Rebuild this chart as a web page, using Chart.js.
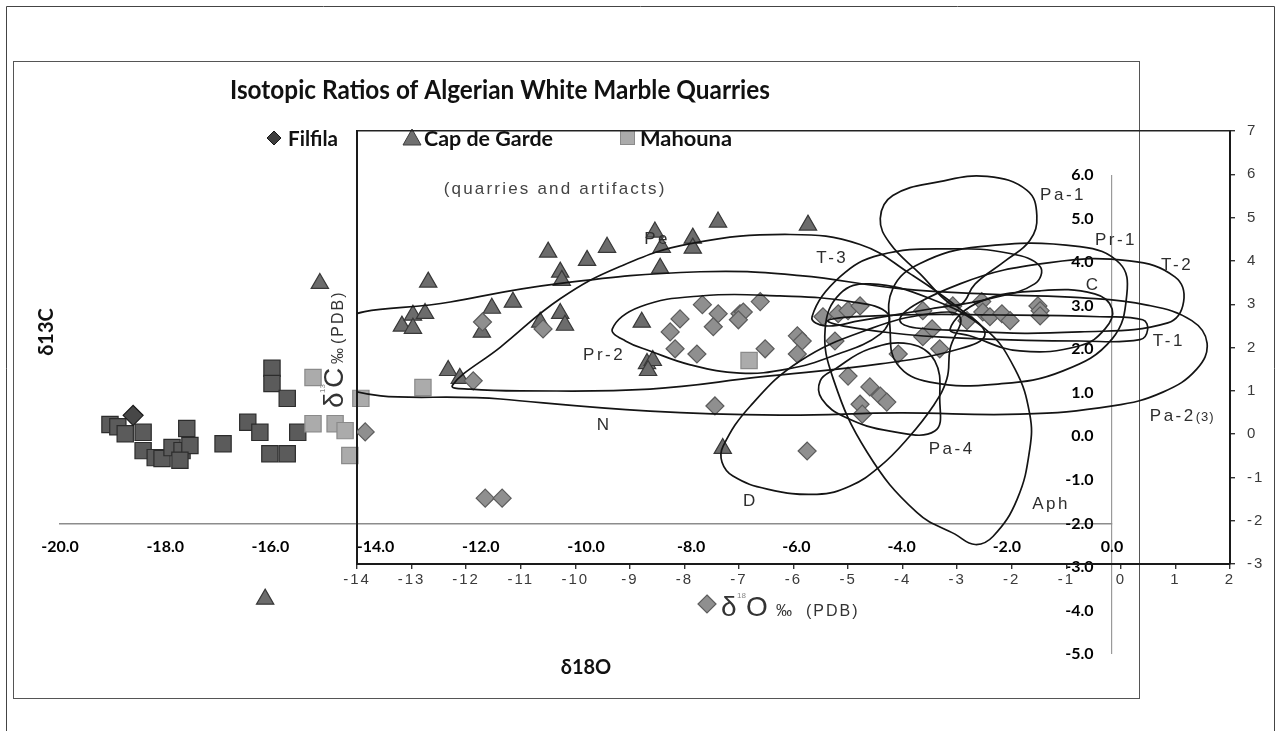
<!DOCTYPE html>
<html>
<head>
<meta charset="utf-8">
<title>Isotopic Ratios of Algerian White Marble Quarries</title>
<script src="https://cdn.jsdelivr.net/npm/chart.js@4.4.1/dist/chart.umd.min.js"></script>
<style>
  html, body { margin: 0; padding: 0; background: #ffffff; }
  #wrap { position: relative; width: 1281px; height: 731px; overflow: hidden; background: #ffffff; }
  #wrap canvas { position: absolute; left: 0; top: 0; }
</style>
</head>
<body>
<div id="wrap">
  <canvas id="quarries" width="1281" height="731"></canvas>
  <canvas id="fields" width="1281" height="731"></canvas>
</div>
<script>
// ---------- Quarry samples: δ18O (x) and δ13C (y), ‰ PDB ----------
const filfilaO = [-18.61];
const filfilaC = [0.48];

const capDeGardeO = [-15.06, -13.00, -13.50, -13.29, -13.29, -13.06, -11.98, -11.79, -11.39, -10.72,
  -9.98, -9.60, -10.49, -10.46, -10.87, -10.49, -10.40, -12.62, -12.40, -8.94,
  -8.84, -8.73, -8.82, -8.69, -8.56, -7.97, -7.97, -7.49, -8.59, -5.78, -7.40, -16.10];
const capDeGardeC = [3.51, 3.54, 2.53, 2.78, 2.48, 2.82, 2.39, 2.94, 3.08, 4.23,
  4.04, 4.34, 3.77, 3.58, 2.62, 2.82, 2.55, 1.51, 1.33, 2.62,
  1.67, 1.74, 1.51, 4.69, 4.34, 4.55, 4.32, 4.92, 3.86, 4.85, -0.28, -3.74];

const mahounaO = [-15.97, -15.97, -15.68, -19.05, -18.90, -18.76, -18.42, -18.42, -18.19, -18.06,
  -17.87, -17.68, -17.53, -17.59, -17.72, -16.90, -16.43, -16.20, -16.01, -15.68,
  -15.48, -15.19, -15.19, -14.77, -14.58, -14.49, -14.28, -13.10, -6.90];
const mahounaC = [1.56, 1.21, 0.87, 0.27, 0.22, 0.06, 0.09, -0.33, -0.49, -0.51,
  -0.26, -0.33, -0.21, 0.18, -0.55, -0.17, 0.32, 0.09, -0.40, -0.40,
  0.09, 1.35, 0.29, 0.29, 0.13, -0.44, 0.87, 1.12, 1.74];

// ---------- Artifacts (quarries and artifacts plot) ----------
const artifactO = [-13.85, -11.70, -10.59, -11.87, -11.65, -11.34, -7.67, -8.08, -8.26, -7.38,
  -7.47, -6.98, -6.92, -7.01, -6.61, -8.17, -7.77, -6.52, -5.93, -5.84,
  -5.93, -7.44, -5.75, -5.46, -5.18, -5.00, -4.78, -5.24, -5.00, -4.60,
  -4.41, -4.29, -4.78, -4.74, -3.63, -3.46, -3.63, -3.32, -4.08, -3.08,
  -2.82, -2.55, -2.53, -2.40, -2.18, -2.03, -1.52, -1.48, -1.48];
const artifactC = [0.05, 2.59, 2.43, 1.23, -1.48, -1.48, 2.99, 2.66, 2.36, 2.78,
  2.48, 2.78, 2.82, 2.64, 3.06, 1.97, 1.85, 1.97, 2.27, 2.15,
  1.85, 0.65, -0.39, 2.71, 2.78, 2.85, 2.96, 2.15, 1.34, 1.09,
  0.88, 0.74, 0.69, 0.46, 2.85, 2.43, 2.25, 1.97, 1.85, 2.96,
  2.62, 3.06, 2.82, 2.71, 2.78, 2.62, 2.96, 2.85, 2.73];

// ---------- Reference marble fields, outlines as [δ18O, δ13C] ----------
const fieldN   = [[-14.49,2.50],[-12.29,3.05],[-10.27,3.48],[-7.71,3.75],[-5.88,3.66],[-4.05,3.36],[-2.22,3.22],[-0.75,3.15],[0.48,2.98],[1.30,2.62],[1.58,2.10],[1.39,1.50],[0.77,0.97],[-0.15,0.65],[-1.85,0.46],[-4.05,0.49],[-6.25,0.44],[-8.63,0.53],[-11.37,0.81],[-14.49,1.18]];
const fieldPe  = [[-12.25,1.13],[-11.37,2.01],[-10.27,3.13],[-9.18,3.87],[-7.89,4.40],[-6.06,4.61],[-4.78,4.38],[-3.86,3.70],[-2.95,2.89],[-2.49,2.31],[-2.95,1.97],[-4.41,1.62],[-6.61,1.32],[-8.63,1.04],[-11.01,1.00],[-11.92,1.04]];
const fieldPr2 = [[-9.32,2.43],[-8.81,2.94],[-7.71,3.19],[-6.25,3.19],[-4.96,3.06],[-4.27,2.78],[-4.41,2.31],[-5.27,1.81],[-6.12,1.50],[-6.98,1.41],[-7.89,1.60],[-8.63,1.92],[-9.08,2.15]];
const fieldT3  = [[-5.66,2.71],[-5.15,3.63],[-4.41,4.14],[-3.13,4.28],[-2.03,4.17],[-1.48,3.87],[-1.58,3.47],[-2.40,3.13],[-3.50,2.89],[-4.78,2.62],[-5.42,2.50]];
const fieldT1  = [[-5.37,2.62],[-4.05,2.75],[-2.22,2.75],[-0.38,2.71],[0.40,2.64],[0.49,2.41],[0.35,2.18],[-0.75,2.15],[-2.58,2.20],[-4.23,2.34]];
const fieldT2  = [[-4.05,2.62],[-2.95,3.47],[-1.30,3.96],[0.16,4.00],[0.99,3.63],[1.15,3.06],[0.86,2.57],[-0.75,2.36],[-2.77,2.38]];
const fieldPr1 = [[-4.23,2.43],[-4.18,3.36],[-3.68,3.94],[-2.58,4.33],[-0.75,4.33],[-0.02,3.94],[0.11,3.24],[-0.16,2.20],[-1.06,1.46],[-2.22,1.16],[-3.50,1.20],[-4.10,1.62]];
const fieldC   = [[-3.13,2.43],[-2.58,3.06],[-1.48,3.31],[-0.48,3.24],[-0.16,2.89],[-0.29,2.43],[-0.75,2.04],[-1.85,1.92],[-2.77,2.27]];
const fieldPa1 = [[-3.13,3.01],[-3.68,3.70],[-4.23,4.40],[-4.41,4.98],[-4.18,5.51],[-3.32,5.83],[-2.45,5.95],[-1.72,5.63],[-1.54,5.05],[-1.67,4.47],[-2.12,4.00],[-2.67,3.47],[-2.91,3.01]];
const fieldD   = [[-2.95,2.71],[-3.13,1.97],[-3.19,1.27],[-3.44,0.65],[-3.92,-0.12],[-4.41,-0.74],[-4.96,-1.20],[-5.57,-1.39],[-6.48,-1.27],[-7.11,-0.97],[-7.31,-0.65],[-7.29,-0.28],[-6.79,0.65],[-5.88,1.69],[-4.60,2.43],[-3.50,2.78]];
const fieldPa4 = [[-5.24,1.50],[-4.60,1.97],[-3.86,2.08],[-3.41,1.69],[-3.32,0.81],[-3.41,0.07],[-4.23,0.07],[-5.05,0.39],[-5.48,0.81],[-5.51,1.23]];
const fieldAph = [[-4.60,3.47],[-3.50,3.13],[-2.49,2.43],[-1.94,1.50],[-1.67,0.46],[-1.67,-0.35],[-1.90,-1.50],[-2.34,-2.36],[-2.67,-2.55],[-3.04,-2.31],[-3.74,-1.81],[-4.65,-0.42],[-5.27,1.27],[-5.42,2.43],[-5.15,3.24]];

// ---------- Tick values ----------
const outerOTicks = [-20, -18, -16, -14, -12, -10, -8, -6, -4, -2, 0];
const outerCTicks = [-5, -4, -3, -2, -1, 0, 1, 2, 3, 4, 5, 6];
const innerOTicks = [-14, -13, -12, -11, -10, -9, -8, -7, -6, -5, -4, -3, -2, -1, 0, 1, 2];
const innerCTicks = [-3, -2, -1, 0, 1, 2, 3, 4, 5, 6, 7];

// ---------- helpers ----------
const toPoints = (xs, ys) => xs.map((x, i) => ({ x: x, y: ys[i] }));
const pairsToPoints = (arr) => arr.map(p => ({ x: p[0], y: p[1] }));
const setTicks = (values) => (scale) => { scale.ticks = values.map(v => ({ value: v })); };

const BOLD = 'Lato, "Liberation Sans", Arial, sans-serif';
const PLAIN = '"Liberation Sans", Arial, sans-serif';

// text squeezed / stretched to a given width
function fitText(ctx, text, left, baseline, width) {
  const w = ctx.measureText(text).width || 1;
  ctx.save();
  ctx.translate(left, baseline);
  ctx.scale(width / w, 1);
  ctx.textAlign = 'left';
  ctx.fillText(text, 0, 0);
  ctx.restore();
}

function diamondPath(ctx, x, y, r) {
  ctx.beginPath();
  ctx.moveTo(x, y - r); ctx.lineTo(x + r, y); ctx.lineTo(x, y + r); ctx.lineTo(x - r, y);
  ctx.closePath();
}

// ---------- decorations of the quarry chart ----------
const quarryDecor = {
  id: 'quarryDecor',
  beforeDraw(chart) {
    const ctx = chart.ctx;
    ctx.save();
    ctx.strokeStyle = '#444';
    ctx.lineWidth = 1;
    ctx.beginPath();
    ctx.moveTo(6.5, 731); ctx.lineTo(6.5, 6.5); ctx.lineTo(1274.5, 6.5); ctx.lineTo(1274.5, 731);
    ctx.stroke();
    ctx.strokeStyle = '#555';
    ctx.strokeRect(13.5, 61.5, 1126, 637);
    ctx.restore();
  },
  afterDraw(chart) {
    const ctx = chart.ctx;
    const area = chart.chartArea;
    ctx.save();
    ctx.fillStyle = '#111';
    ctx.textBaseline = 'alphabetic';

    ctx.font = 'bold 26px ' + BOLD;
    fitText(ctx, 'Isotopic Ratios of Algerian White Marble Quarries', 230, 99, 540);

    // legend
    ctx.font = 'bold 20px ' + BOLD;
    ctx.lineWidth = 1;
    ctx.fillStyle = '#3e3e3e'; ctx.strokeStyle = '#161616';
    diamondPath(ctx, 274, 138, 7); ctx.fill(); ctx.stroke();
    ctx.fillStyle = '#111';
    fitText(ctx, 'Filfila', 288, 146, 50);

    ctx.fillStyle = '#707070'; ctx.strokeStyle = '#3c3c3c';
    ctx.beginPath(); ctx.moveTo(412, 129); ctx.lineTo(421, 145); ctx.lineTo(403, 145); ctx.closePath();
    ctx.fill(); ctx.stroke();
    ctx.fillStyle = '#111';
    fitText(ctx, 'Cap de Garde', 424, 146, 129);

    ctx.fillStyle = '#ababab'; ctx.strokeStyle = '#8a8a8a';
    ctx.fillRect(620, 130, 15, 15); ctx.strokeRect(620.5, 130.5, 14, 14);
    ctx.fillStyle = '#111';
    fitText(ctx, 'Mahouna', 640, 146, 92);

    // axis titles
    ctx.font = 'bold 20px ' + BOLD;
    ctx.textAlign = 'center';
    ctx.fillText('δ18O', (area.left + area.right) / 2, 674);
    ctx.save();
    ctx.translate(53, 332);
    ctx.rotate(-Math.PI / 2);
    ctx.fillText('δ13C', 0, 0);
    ctx.restore();
    ctx.restore();
  }
};

// ---------- decorations of the field chart ----------
const fieldLabels = [
  { t: 'Pe',   o: -8.50, c: 4.51 },
  { t: 'T-3',  o: -5.29, c: 4.05 },
  { t: 'Pa-1', o: -1.06, c: 5.51 },
  { t: 'Pr-1', o: -0.09, c: 4.47 },
  { t: 'T-2',  o: 1.03,  c: 3.89 },
  { t: 'C',    o: -0.51, c: 3.43 },
  { t: 'T-1',  o: 0.88,  c: 2.15 },
  { t: 'Pr-2', o: -9.47, c: 1.81 },
  { t: 'N',    o: -9.47, c: 0.21 },
  { t: 'Pa-4', o: -3.10, c: -0.35 },
  { t: 'D',    o: -6.79, c: -1.55 },
  { t: 'Aph',  o: -1.28, c: -1.62 }
];

// draw each field outline as a closed smooth loop
const closeOutlines = {
  id: 'closeOutlines',
  afterDatasetsUpdate(chart) {
    chart.data.datasets.forEach((ds, i) => {
      if (!ds.closed) return;
      const line = chart.getDatasetMeta(i).dataset;
      if (line) { line._loop = true; line._fullLoop = true; }
    });
  }
};

const fieldDecor = {
  id: 'fieldDecor',
  beforeDraw(chart) {
    chart.ctx.letterSpacing = '2px';
  },
  afterDraw(chart) {
    const ctx = chart.ctx;
    const xs = chart.scales.x, ys = chart.scales.y;
    const area = chart.chartArea;
    ctx.save();
    ctx.fillStyle = '#2e2e2e';
    ctx.textBaseline = 'middle';
    ctx.textAlign = 'center';
    ctx.letterSpacing = '2.5px';
    ctx.font = '17px ' + PLAIN;
    fieldLabels.forEach(l => ctx.fillText(l.t, xs.getPixelForValue(l.o), ys.getPixelForValue(l.c)));

    // Pa-2(3)
    const px = xs.getPixelForValue(0.53), py = ys.getPixelForValue(0.42);
    ctx.textAlign = 'left';
    ctx.fillText('Pa-2', px, py);
    const w = ctx.measureText('Pa-2').width;
    ctx.font = '13px ' + PLAIN;
    ctx.letterSpacing = '1px';
    ctx.fillText('(3)', px + w, py + 2);

    // subtitle
    ctx.font = '17px ' + PLAIN;
    ctx.letterSpacing = '2.2px';
    ctx.fillStyle = '#444';
    ctx.textAlign = 'center';
    ctx.fillText('(quarries and artifacts)', xs.getPixelForValue(-10.37), ys.getPixelForValue(5.65));

    // x axis title with artifact marker
    ctx.textAlign = 'left';
    ctx.textBaseline = 'alphabetic';
    ctx.letterSpacing = '0px';
    const by = area.bottom + 52;
    ctx.fillStyle = '#8f8f8f'; ctx.strokeStyle = '#5e5e5e'; ctx.lineWidth = 1.2;
    diamondPath(ctx, 707, by - 12, 9); ctx.fill(); ctx.stroke();
    ctx.fillStyle = '#333';
    ctx.font = '28px ' + PLAIN;
    ctx.fillText('δ', 721, by);
    ctx.fillText('O', 746, by);
    ctx.font = '8px ' + PLAIN;
    ctx.fillStyle = '#888';
    ctx.fillText('18', 737, by - 18);
    ctx.fillStyle = '#333';
    ctx.font = '16px ' + PLAIN;
    ctx.fillText('‰', 776, by);
    ctx.letterSpacing = '2px';
    ctx.fillText('(PDB)', 806, by);

    // y axis title (rotated)
    ctx.save();
    ctx.translate(area.left - 14, 408);
    ctx.rotate(-Math.PI / 2);
    ctx.letterSpacing = '0px';
    ctx.font = '28px ' + PLAIN;
    ctx.fillText('δ', 0, 0);
    ctx.fillText('C', 20, 0);
    ctx.font = '8px ' + PLAIN;
    ctx.fillStyle = '#888';
    ctx.fillText('13', 15, -18);
    ctx.fillStyle = '#333';
    ctx.font = '16px ' + PLAIN;
    ctx.fillText('‰', 44, 0);
    ctx.letterSpacing = '2px';
    ctx.fillText('(PDB)', 64, 0);
    ctx.restore();

    ctx.restore();
    ctx.letterSpacing = '0px';
  }
};

// ---------- quarry chart (bold axes, crossing at δ13C = -2 and δ18O = 0) ----------
new Chart(document.getElementById('quarries'), {
  type: 'scatter',
  data: {
    datasets: [
      {
        label: 'Filfila', data: toPoints(filfilaO, filfilaC),
        pointStyle: 'rectRot', pointRadius: 10,
        backgroundColor: '#474747', borderColor: '#1a1a1a', borderWidth: 1.2
      },
      {
        label: 'Cap de Garde', data: toPoints(capDeGardeO, capDeGardeC),
        pointStyle: 'triangle', pointRadius: 10,
        backgroundColor: '#6c6c6c', borderColor: '#383838', borderWidth: 1.2
      },
      {
        label: 'Mahouna', data: toPoints(mahounaO, mahounaC),
        pointStyle: 'rect', pointRadius: 11.5,
        backgroundColor: (c) => (c.raw && c.raw.x > -15.35) ? '#ababab' : '#5b5b5b',
        borderColor: (c) => (c.raw && c.raw.x > -15.35) ? '#8a8a8a' : '#2c2c2c',
        borderWidth: 1.2
      }
    ]
  },
  options: {
    responsive: false,
    animation: false,
    events: [],
    layout: { padding: { left: 60, right: 169, top: 175, bottom: 77 } },
    plugins: { legend: { display: false }, tooltip: { enabled: false }, title: { display: false } },
    scales: {
      x: {
        type: 'linear', min: -20, max: 0,
        position: { y: -2 },
        afterBuildTicks: setTicks(outerOTicks),
        afterFit: (s) => { s.height = 0; },
        grid: {
          drawTicks: false,
          color: (c) => (c.tick && c.tick.value === 0) ? '#9a9a9a' : 'rgba(0,0,0,0)',
          lineWidth: 1.2
        },
        border: { display: true, color: '#8c8c8c', width: 1.6 },
        ticks: {
          font: { family: BOLD, weight: 'bold', size: 16 }, color: '#000',
          padding: 14, autoSkip: false, maxRotation: 0, minRotation: 0,
          callback: (v) => Number(v).toFixed(1)
        }
      },
      y: {
        type: 'linear', min: -5, max: 6,
        position: { x: -0.35 },
        afterBuildTicks: setTicks(outerCTicks),
        afterFit: (s) => { s.width = 0; },
        grid: { display: false },
        border: { display: false },
        ticks: {
          font: { family: BOLD, weight: 'bold', size: 16 }, color: '#000',
          autoSkip: false,
          callback: (v) => Number(v).toFixed(1)
        }
      }
    }
  },
  plugins: [quarryDecor]
});

// ---------- field chart (marble provenance fields and artifacts) ----------
const outlines = [
  ['N', fieldN], ['Pe', fieldPe], ['Pr-2', fieldPr2], ['T-3', fieldT3], ['T-1', fieldT1],
  ['T-2', fieldT2], ['Pr-1', fieldPr1], ['C', fieldC], ['Pa-1', fieldPa1], ['D', fieldD],
  ['Pa-4', fieldPa4], ['Aph', fieldAph]
];

new Chart(document.getElementById('fields'), {
  type: 'scatter',
  data: {
    datasets: outlines.map(([name, pts]) => ({
      label: name, data: pairsToPoints(pts), closed: true,
      showLine: true, pointRadius: 0, pointHitRadius: 0,
      borderColor: '#141414', borderWidth: 1.7, tension: 0.42, fill: false
    })).concat([{
      label: 'artifacts', data: toPoints(artifactO, artifactC),
      pointStyle: 'rectRot', pointRadius: 9,
      backgroundColor: '#8f8f8f', borderColor: '#5c5c5c', borderWidth: 1.2
    }])
  },
  options: {
    responsive: false,
    animation: false,
    events: [],
    layout: { padding: { left: 357, right: 6, top: 131, bottom: 127 } },
    plugins: { legend: { display: false }, tooltip: { enabled: false }, title: { display: false } },
    scales: {
      x: {
        type: 'linear', min: -14, max: 2, position: 'bottom',
        afterBuildTicks: setTicks(innerOTicks),
        afterFit: (s) => { s.height = 40; },
        grid: { drawOnChartArea: false, drawTicks: true, tickLength: 5, color: '#333', lineWidth: 1.4 },
        border: { color: '#1a1a1a', width: 2 },
        ticks: { font: { family: PLAIN, size: 15 }, color: '#3a3a3a', padding: 2, autoSkip: false, maxRotation: 0, minRotation: 0 }
      },
      y: {
        type: 'linear', min: -3, max: 7, position: 'right',
        afterBuildTicks: setTicks(innerCTicks),
        afterFit: (s) => { s.width = 45; },
        grid: { drawOnChartArea: false, drawTicks: true, tickLength: 5, color: '#333', lineWidth: 1.4 },
        border: { color: '#1a1a1a', width: 2 },
        ticks: { font: { family: PLAIN, size: 15 }, color: '#3a3a3a', padding: 12, autoSkip: false }
      },
      xTop: {
        axis: 'x', type: 'linear', min: -14, max: 2, position: 'top',
        afterFit: (s) => { s.height = 0; },
        grid: { drawOnChartArea: false, drawTicks: false },
        border: { display: true, color: '#222', width: 1.5 },
        ticks: { display: false }
      },
      yLeft: {
        axis: 'y', type: 'linear', min: -3, max: 7, position: 'left',
        afterFit: (s) => { s.width = 0; },
        grid: { drawOnChartArea: false, drawTicks: false },
        border: { display: true, color: '#1a1a1a', width: 2 },
        ticks: { display: false }
      }
    }
  },
  plugins: [closeOutlines, fieldDecor]
});
</script>
</body>
</html>
